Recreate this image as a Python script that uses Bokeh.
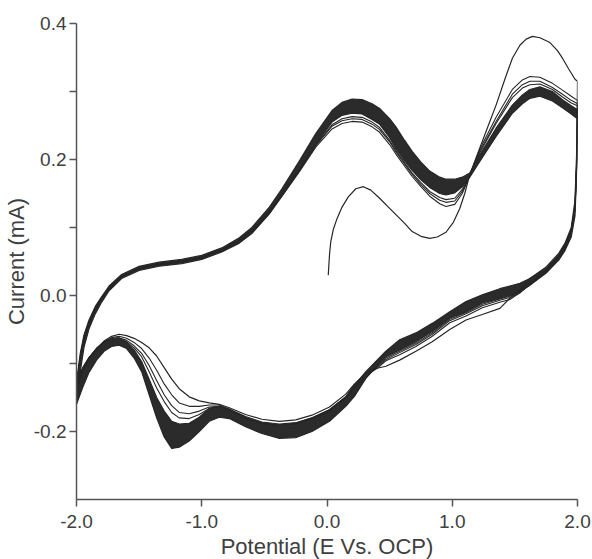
from bokeh.plotting import figure
from bokeh.models import Range1d, FixedTicker
from bokeh.embed import file_html
from bokeh.resources import INLINE

# ---------------- data ----------------
# potential grid for the anodic (forward) sweeps, V
potential_fwd = [-2.00, -1.97, -1.94, -1.90, -1.85, -1.80, -1.74, -1.64, -1.50, -1.34,
                 -1.16, -1.00, -0.84, -0.70, -0.60, -0.46, -0.36, -0.22, -0.09, 0.04,
                 0.12, 0.20, 0.28, 0.36, 0.42, 0.50, 0.55, 0.62, 0.68, 0.75,
                 0.82, 0.90, 0.95, 1.02, 1.08, 1.14, 1.22, 1.35, 1.48, 1.56,
                 1.62, 1.70, 1.80, 1.88, 1.95, 2.00]
# envelope of the dense bundle of later cycles (upper / lower edge), mA
bundle_fwd_upper = [-0.128, -0.085, -0.058, -0.036, -0.016, -0.002, 0.014, 0.031, 0.043, 0.049,
                    0.053, 0.059, 0.070, 0.085, 0.100, 0.130, 0.157, 0.198, 0.238, 0.272,
                    0.284, 0.289, 0.288, 0.282, 0.275, 0.260, 0.248, 0.228, 0.212, 0.196,
                    0.183, 0.174, 0.171, 0.171, 0.174, 0.180, 0.207, 0.246, 0.280, 0.295,
                    0.303, 0.307, 0.300, 0.288, 0.279, 0.273]
bundle_fwd_lower = [-0.160, -0.112, -0.076, -0.049, -0.027, -0.010, 0.007, 0.025, 0.037, 0.043,
                    0.047, 0.053, 0.064, 0.077, 0.091, 0.120, 0.146, 0.184, 0.222, 0.255,
                    0.265, 0.268, 0.267, 0.259, 0.252, 0.232, 0.216, 0.198, 0.184, 0.170,
                    0.159, 0.150, 0.148, 0.151, 0.160, 0.174, 0.197, 0.234, 0.268, 0.282,
                    0.290, 0.293, 0.286, 0.276, 0.267, 0.260]
cycle2_fwd = [-0.135, -0.095, -0.065, -0.042, -0.022, -0.006, 0.010, 0.028, 0.040, 0.046,
              0.050, 0.056, 0.067, 0.080, 0.094, 0.122, 0.146, 0.182, 0.218, 0.245,
              0.253, 0.256, 0.255, 0.248, 0.240, 0.222, 0.208, 0.190, 0.175, 0.160,
              0.146, 0.135, 0.131, 0.134, 0.150, 0.176, 0.215, 0.262, 0.303, 0.317,
              0.322, 0.321, 0.312, 0.302, 0.293, 0.287]
cycle3_fwd = [-0.130, -0.092, -0.062, -0.040, -0.020, -0.005, 0.010, 0.028, 0.040, 0.046,
              0.050, 0.056, 0.067, 0.081, 0.095, 0.123, 0.147, 0.184, 0.220, 0.249,
              0.257, 0.260, 0.259, 0.252, 0.244, 0.226, 0.211, 0.193, 0.178, 0.163,
              0.150, 0.140, 0.137, 0.139, 0.153, 0.177, 0.212, 0.256, 0.296, 0.310,
              0.315, 0.315, 0.306, 0.296, 0.287, 0.282]
cycle4_fwd = [-0.130, -0.090, -0.060, -0.039, -0.019, -0.004, 0.011, 0.029, 0.040, 0.046,
              0.050, 0.056, 0.067, 0.081, 0.095, 0.124, 0.148, 0.185, 0.221, 0.251,
              0.260, 0.263, 0.262, 0.255, 0.247, 0.228, 0.213, 0.195, 0.180, 0.166,
              0.153, 0.144, 0.141, 0.143, 0.156, 0.177, 0.210, 0.253, 0.291, 0.305,
              0.310, 0.311, 0.303, 0.292, 0.283, 0.279]

# potential grid for the cathodic (reverse) sweeps, V
potential_rev = [2.00, 1.995, 1.98, 1.95, 1.90, 1.85, 1.75, 1.62, 1.54, 1.46,
                 1.38, 1.24, 1.11, 0.98, 0.84, 0.71, 0.58, 0.47, 0.40, 0.31,
                 0.22, 0.15, 0.02, -0.12, -0.25, -0.38, -0.52, -0.65, -0.78, -0.86,
                 -0.94, -1.02, -1.10, -1.18, -1.24, -1.30, -1.36, -1.42, -1.48, -1.54,
                 -1.60, -1.66, -1.72, -1.78, -1.84, -1.90, -1.95, -2.00]
bundle_rev_upper = [0.273, 0.200, 0.130, 0.097, 0.075, 0.060, 0.040, 0.025, 0.018, 0.014,
                    0.010, 0.001, -0.009, -0.024, -0.041, -0.055, -0.065, -0.082, -0.095, -0.112,
                    -0.132, -0.149, -0.168, -0.180, -0.188, -0.191, -0.188, -0.180, -0.168, -0.163,
                    -0.166, -0.179, -0.188, -0.189, -0.185, -0.170, -0.150, -0.123, -0.097, -0.080,
                    -0.069, -0.064, -0.065, -0.069, -0.078, -0.091, -0.106, -0.128]
bundle_rev_lower = [0.260, 0.190, 0.117, 0.086, 0.066, 0.052, 0.033, 0.015, 0.006, 0.000,
                    -0.004, -0.011, -0.024, -0.033, -0.053, -0.068, -0.080, -0.090, -0.103, -0.122,
                    -0.148, -0.163, -0.185, -0.200, -0.209, -0.210, -0.203, -0.193, -0.181, -0.179,
                    -0.185, -0.200, -0.214, -0.223, -0.225, -0.208, -0.180, -0.146, -0.112, -0.092,
                    -0.078, -0.073, -0.075, -0.082, -0.095, -0.113, -0.135, -0.160]
cycle1_rev = [0.315, 0.220, 0.140, 0.100, 0.077, 0.062, 0.042, 0.025, 0.008, -0.004,
              -0.019, -0.028, -0.036, -0.050, -0.068, -0.082, -0.095, -0.104, -0.107, -0.114,
              -0.130, -0.145, -0.164, -0.176, -0.183, -0.185, -0.182, -0.175, -0.165, -0.160,
              -0.158, -0.155, -0.149, -0.137, -0.123, -0.106, -0.089, -0.077, -0.069, -0.063,
              -0.059, -0.057, -0.060, -0.067, -0.078, -0.092, -0.107, -0.129]
cycle2_rev = [0.287, 0.205, 0.133, 0.097, 0.074, 0.058, 0.038, 0.018, 0.004, -0.006,
              -0.010, -0.018, -0.030, -0.040, -0.060, -0.075, -0.087, -0.096, -0.107, -0.118,
              -0.131, -0.149, -0.168, -0.180, -0.187, -0.189, -0.186, -0.178, -0.167, -0.161,
              -0.161, -0.163, -0.163, -0.158, -0.146, -0.130, -0.110, -0.092, -0.078, -0.069,
              -0.063, -0.060, -0.062, -0.068, -0.080, -0.095, -0.112, -0.135]
cycle3_rev = [0.282, 0.200, 0.128, 0.095, 0.072, 0.057, 0.036, 0.016, 0.004, -0.003,
              -0.007, -0.015, -0.027, -0.037, -0.057, -0.072, -0.084, -0.094, -0.105, -0.120,
              -0.133, -0.150, -0.169, -0.181, -0.188, -0.190, -0.187, -0.179, -0.168, -0.163,
              -0.164, -0.170, -0.174, -0.172, -0.162, -0.146, -0.125, -0.103, -0.085, -0.074,
              -0.066, -0.062, -0.063, -0.068, -0.078, -0.092, -0.108, -0.130]
cycle4_rev = [0.279, 0.198, 0.125, 0.093, 0.070, 0.055, 0.035, 0.016, 0.005, -0.001,
              -0.005, -0.013, -0.025, -0.035, -0.055, -0.070, -0.082, -0.092, -0.104, -0.121,
              -0.135, -0.151, -0.170, -0.182, -0.189, -0.191, -0.188, -0.180, -0.168, -0.163,
              -0.166, -0.175, -0.181, -0.180, -0.172, -0.156, -0.136, -0.112, -0.090, -0.077,
              -0.068, -0.063, -0.064, -0.069, -0.078, -0.092, -0.107, -0.129]

# first anodic sweep, starting at open-circuit potential
cycle1_fwd_potential = [0.01, 0.02, 0.03, 0.05, 0.08, 0.12, 0.17, 0.23, 0.29, 0.35,
                        0.42, 0.49, 0.55, 0.62, 0.68, 0.75, 0.82, 0.88, 0.95, 1.01,
                        1.06, 1.10, 1.14, 1.22, 1.30, 1.35, 1.42, 1.48, 1.54, 1.59,
                        1.64, 1.70, 1.78, 1.84, 1.88, 1.93, 1.98, 2.00]
cycle1_fwd = [0.030, 0.060, 0.079, 0.097, 0.113, 0.130, 0.145, 0.157, 0.160, 0.155,
              0.143, 0.130, 0.119, 0.106, 0.094, 0.087, 0.084, 0.086, 0.093, 0.108,
              0.128, 0.150, 0.178, 0.217, 0.256, 0.280, 0.318, 0.349, 0.368, 0.377,
              0.381, 0.379, 0.372, 0.360, 0.349, 0.333, 0.318, 0.315]

x_ticks = [-2.0, -1.0, 0.0, 1.0, 2.0]
x_tick_labels = ["-2.0", "-1.0", "0.0", "1.0", "2.0"]
y_ticks = [-0.2, -0.1, 0.0, 0.1, 0.2, 0.3, 0.4]
y_tick_labels = ["-0.2", "", "0.0", "", "0.2", "", "0.4"]

# ---------------- figure ----------------
FONT = "Liberation Sans"
LINE = "#262626"
TEXT = "#404040"
AXIS = "#555555"

p = figure(frame_width=501, frame_height=476, output_backend="svg", toolbar_location=None,
           x_range=Range1d(-2.0, 2.0), y_range=Range1d(-0.30, 0.40),
           min_border_left=75, min_border_right=16, min_border_top=23, min_border_bottom=58)
p.outline_line_color = None
p.xgrid.visible = False
p.ygrid.visible = False
p.background_fill_color = "white"
p.border_fill_color = "white"

# dense bundle of later cycles as filled band plus its edges
p.patch(potential_fwd + potential_fwd[::-1], bundle_fwd_upper + bundle_fwd_lower[::-1],
        fill_color="#2b2b2b", line_color=None)
p.patch(potential_rev + potential_rev[::-1], bundle_rev_upper + bundle_rev_lower[::-1],
        fill_color="#2b2b2b", line_color=None)
for ys in (bundle_fwd_upper, bundle_fwd_lower):
    p.line(potential_fwd, ys, line_color=LINE, line_width=1.2, line_join="round")
for ys in (bundle_rev_upper, bundle_rev_lower):
    p.line(potential_rev, ys, line_color=LINE, line_width=1.2, line_join="round")

# individual early cycles
p.line(cycle1_fwd_potential + potential_rev, cycle1_fwd + cycle1_rev,
       line_color=LINE, line_width=1.2, line_join="round")
for fwd, rev in ((cycle2_fwd, cycle2_rev), (cycle3_fwd, cycle3_rev), (cycle4_fwd, cycle4_rev)):
    p.line(potential_fwd + potential_rev, fwd + rev,
           line_color=LINE, line_width=1.1, line_join="round")

# axes styling
for ax in (p.xaxis[0], p.yaxis[0]):
    ax.axis_line_color = AXIS
    ax.axis_line_width = 1.5
    ax.major_tick_line_color = AXIS
    ax.major_tick_line_width = 1.5
    ax.major_tick_in = 0
    ax.major_tick_out = 7
    ax.minor_tick_line_color = None
    ax.major_label_text_font = FONT
    ax.major_label_text_font_size = "19px"
    ax.major_label_text_color = TEXT
    ax.axis_label_text_font = FONT
    ax.axis_label_text_font_size = "22px"
    ax.axis_label_text_font_style = "normal"
    ax.axis_label_text_color = TEXT

p.xaxis.ticker = FixedTicker(ticks=x_ticks)
p.xaxis.major_label_overrides = dict(zip(x_ticks, x_tick_labels))
p.yaxis.ticker = FixedTicker(ticks=y_ticks)
p.yaxis.major_label_overrides = dict(zip(y_ticks, y_tick_labels))
p.xaxis.axis_label = "Potential (E Vs. OCP)"
p.yaxis.axis_label = "Current (mA)"
p.xaxis.major_label_standoff = 8
p.xaxis.axis_label_standoff = 3
p.yaxis.major_label_standoff = 3
p.yaxis.axis_label_standoff = 2

open("out.html", "w").write(file_html(p, INLINE))
